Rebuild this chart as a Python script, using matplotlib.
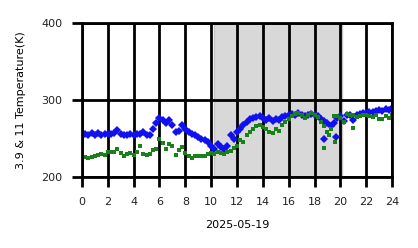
import numpy as np
import matplotlib
matplotlib.use("Agg")
import matplotlib.pyplot as plt

# brightness temperature, sampled every 15 min from 00:00 to 24:00
t39 = [255, 256, 254, 257, 255, 257, 255, 256, 256, 256, 257, 261,
       256, 255, 255, 256, 255, 256, 256, 258, 255, 255, 262, 270,
       277, 274, 270, 274, 268, 258, 260, 268, 262, 259, 256, 254,
       252, 250, 248, 245, 241, 237, 243, 239, 236, 241, 254, 250,
       259, 263, 268, 272, 275, 277, 278, 279, 277, 274, 277, 273,
       276, 274, 278, 279, 281, 282, 281, 283, 281, 279, 281, 282,
       280, 279, 276, 273, 270, 266, 270, 277, 279, 273, 280, 281,
       274, 280, 282, 283, 283, 284, 285, 286, 287, 286, 288, 287, 290]
t11 = [225, 226, 225, 226, 227, 229, 230, 229, 232, 233, 232, 237,
       231, 228, 230, 231, 229, 233, 240, 230, 229, 230, 235, 237,
       249, 244, 236, 243, 240, 229, 235, 239, 231, 228, 225, 228,
       227, 228, 228, 230, 231, 230, 233, 231, 230, 233, 234, 238,
       241, 248, 246, 255, 259, 263, 266, 268, 265, 262, 258, 257,
       262, 260, 267, 272, 276, 279, 282, 283, 280, 277, 281, 283,
       280, 278, 272, 266, 258, 262, 279, 279, 277, 272, 282, 281,
       281, 278, 279, 280, 281, 279, 278, 280, 276, 275, 279, 277, 280]

# scattered outliers
t39_extra_h = [18.7, 19.65]
t39_extra = [249, 252]
t11_extra_h = [18.7, 19.15, 19.6, 21.0]
t11_extra = [238, 254, 245, 264]

daytime = (10.2, 20.1)
date_label = "2025-05-19"

hours = np.arange(len(t39)) * 0.25

fig = plt.figure(figsize=(4.18, 2.48), dpi=100)
ax = fig.add_axes([0.196, 0.286, 0.742, 0.621])

ax.axvspan(daytime[0], daytime[1], facecolor="#d8d8d8", edgecolor="#c4c4c4", lw=1)

ax.plot(hours, t39, "D", color="#1010f0", ms=3.8, mew=0)
ax.plot(t39_extra_h, t39_extra, "D", color="#1010f0", ms=3.8, mew=0)
ax.plot(hours, t11, "s", color="#1a801a", ms=3.0, mew=0)
ax.plot(t11_extra_h, t11_extra, "s", color="#1a801a", ms=3.0, mew=0)

ax.set_xlim(0, 24)
ax.set_ylim(200, 400)
ax.set_xticks(range(0, 25, 2))
ax.set_yticks([200, 300, 400])
ax.grid(True, color="black", lw=2)
for s in ax.spines.values():
    s.set_color("black")
    s.set_linewidth(2)
ax.tick_params(length=7, width=2, pad=7, labelsize=8, colors="black")
ax.tick_params(labelcolor="#222222")

ax.set_xlabel(date_label, fontsize=8, labelpad=10)
ax.set_ylabel("3.9 & 11 Temperature(K)", fontsize=8, labelpad=11)

fig.savefig("out.png", dpi=100)
